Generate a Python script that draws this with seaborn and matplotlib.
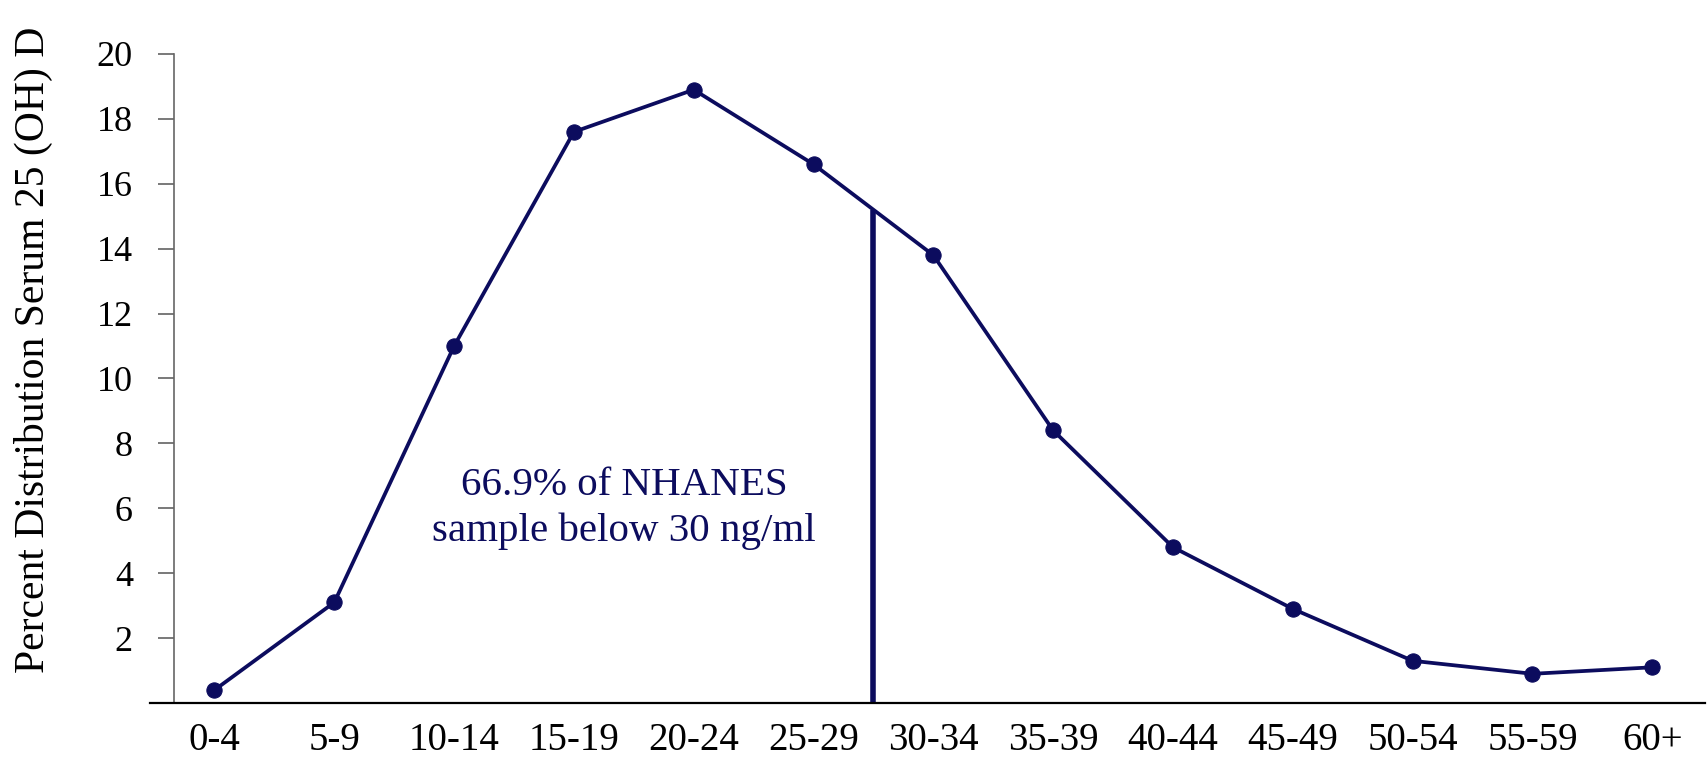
import numpy as np
import pandas as pd
import matplotlib
matplotlib.use("Agg")
import matplotlib.pyplot as plt
from matplotlib.ticker import FixedLocator
import seaborn as sns

# serum 25(OH)D bins (ng/ml) and percent of sample in each
age_bins = ['0-4', '5-9', '10-14', '15-19', '20-24', '25-29', '30-34',
            '35-39', '40-44', '45-49', '50-54', '55-59', '60+']
percent = [0.4, 3.1, 11.0, 17.6, 18.9, 16.6, 13.8, 8.4, 4.8, 2.9, 1.3, 0.9, 1.1]
y_ticks = [2, 4, 6, 8, 10, 12, 14, 16, 18, 20]
note = "66.9% of NHANES\nsample below 30 ng/ml"
ylabel = "Percent Distribution Serum 25 (OH) D"

navy = '#0c0c5e'

df = pd.DataFrame({'bin': age_bins, 'pct': percent})

sns.set_style('ticks')
plt.rcParams['font.family'] = ['Liberation Serif', 'DejaVu Serif']

fig = plt.figure(figsize=(17.07, 7.59), dpi=100)
ax = fig.add_axes([150 / 1707, 1 - 703 / 759, 1555 / 1707, 649 / 759])

sns.lineplot(data=df, x='bin', y='pct', sort=False, ax=ax, color=navy,
             linewidth=2.7, marker='o', markersize=11,
             markeredgecolor=navy, markerfacecolor=navy)

# cut-off line at 30 ng/ml, between 25-29 and 30-34
cut_x = 5.5
cut_h = (percent[5] + percent[6]) / 2
ax.vlines(cut_x, 0, cut_h, color=navy, linewidth=4)

ax.text(3.42, 6.0, note, ha='center', va='center', fontsize=29.5,
        color=navy, linespacing=1.3)

ax.set_xlim(-0.538, 12.44)
ax.set_ylim(0, 20)
ax.set_yticks(y_ticks)
ax.yaxis.set_minor_locator(FixedLocator([20]))

sns.despine(ax=ax)
ax.spines['left'].set_position(('data', -0.338))
ax.spines['left'].set_color('#666666')
ax.spines['left'].set_linewidth(1.2)
ax.spines['bottom'].set_color('black')
ax.spines['bottom'].set_linewidth(1.6)

ax.tick_params(axis='x', length=0, pad=14, labelsize=28, colors='black')
ax.tick_params(axis='y', which='major', direction='out', length=11.5,
               width=1.1, color='#555555', pad=18, labelsize=26,
               labelcolor='black')
ax.tick_params(axis='y', which='minor', direction='in', length=11.5,
               width=1.1, color='#555555')

ax.set_xlabel('')
ax.set_ylabel('')
fig.text(33 / 1707, 1 - 673 / 759, ylabel, rotation=90, ha='center',
         va='bottom', fontsize=30, color='black')

fig.savefig('out.png', dpi=100)
